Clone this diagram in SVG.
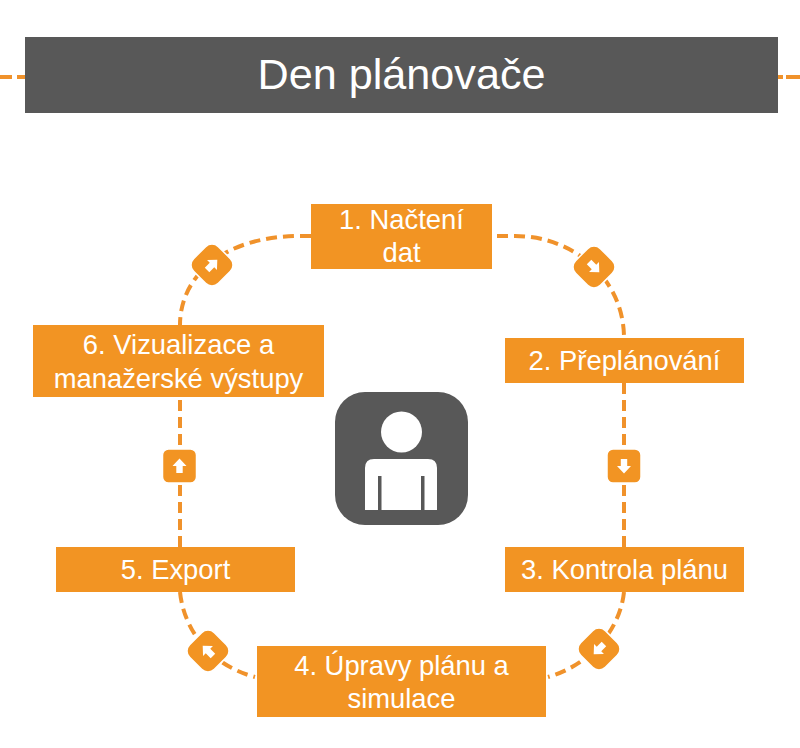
<svg xmlns="http://www.w3.org/2000/svg" width="800" height="748" viewBox="0 0 800 748">
<style>
.box{fill:#f29423}
.lbl{font-family:"Liberation Sans",Arial,sans-serif;font-size:27.4px;fill:#fff;text-anchor:middle}
.conn{fill:none;stroke:#f0922b;stroke-width:4;stroke-dasharray:11 6}
.badge{fill:#f29423;stroke:#fff;stroke-width:1.5}
.glyph{fill:#fff}
.dark{fill:#585858}
</style>
<defs>
<polygon id="arrow" class="glyph" points="0,-7.500 7,0 3.200,0 3.200,7 -3.200,7 -3.200,0 -7,0"/>
<g id="badge-square">
<rect class="badge" x="-17" y="-17" width="34" height="34" rx="6"/>
<use href="#arrow"/>
</g>
<g id="badge-diamond">
<rect class="badge" x="-17.500" y="-17.500" width="35" height="35" rx="9"/>
<use href="#arrow"/>
</g>
</defs>
<rect width="800" height="748" fill="#fff"/>
<g id="connectors">
<path class="conn" style="stroke-dasharray:12 5" d="M0,77H25"/>
<path class="conn" style="stroke-dasharray:14 3" d="M800,77H778"/>
<path class="conn" d="M311,236H300C225,236 180,275 180,325"/>
<path class="conn" d="M497,236H515C575,236 624,280 624,338"/>
<path class="conn" d="M624,383V547"/>
<path class="conn" d="M624,592C620,630 590,665 548,677"/>
<path class="conn" d="M180,592C184,630 210,665 255,677"/>
<path class="conn" d="M180,547V397"/>
</g>
<g id="header">
<rect class="dark" x="25" y="37" width="753" height="76"/>
<text x="401.500" y="89" font-family="'Liberation Sans',Arial,sans-serif" font-size="43.200" fill="#fff" text-anchor="middle">Den plánovače</text>
</g>
<g id="badge-1"><use href="#badge-diamond" transform="translate(212,265) rotate(45)"/></g>
<g id="badge-2"><use href="#badge-diamond" transform="translate(594,267) rotate(135)"/></g>
<g id="badge-3"><use href="#badge-square" transform="translate(624,466) rotate(180)"/></g>
<g id="badge-4"><use href="#badge-diamond" transform="translate(599,649) rotate(225)"/></g>
<g id="badge-5"><use href="#badge-diamond" transform="translate(208,651) rotate(315)"/></g>
<g id="badge-6"><use href="#badge-square" transform="translate(179.500,466)"/></g>
<g id="node-1">
<rect class="box" x="311" y="204" width="181" height="65"/>
<text class="lbl" x="401.500" y="229">1. Načtení</text>
<text class="lbl" x="401.500" y="262">dat</text>
</g>
<g id="node-2">
<rect class="box" x="505" y="338" width="239" height="45"/>
<text class="lbl" x="624.500" y="370">2. Přeplánování</text>
</g>
<g id="node-3">
<rect class="box" x="505" y="547" width="239" height="45"/>
<text class="lbl" x="624.500" y="579">3. Kontrola plánu</text>
</g>
<g id="node-4">
<rect class="box" x="257" y="646" width="289" height="71"/>
<text class="lbl" x="401.500" y="675">4. Úpravy plánu a</text>
<text class="lbl" x="401.500" y="708">simulace</text>
</g>
<g id="node-5">
<rect class="box" x="56" y="547" width="239" height="45"/>
<text class="lbl" x="175.500" y="579">5. Export</text>
</g>
<g id="node-6">
<rect class="box" x="33" y="325" width="291" height="72"/>
<text class="lbl" x="178.500" y="354">6. Vizualizace a</text>
<text class="lbl" x="178.500" y="388">manažerské výstupy</text>
</g>
<g id="person">
<rect class="dark" x="335" y="392" width="133" height="133" rx="30"/>
<circle class="glyph" cx="401.500" cy="432" r="20.500"/>
<path class="glyph" d="M365,510V468Q365,459 374,459H428Q437,459 437,468V510Z"/>
<rect class="dark" x="378" y="476" width="3.500" height="34"/>
<rect class="dark" x="421" y="476" width="3.500" height="34"/>
</g>
</svg>
